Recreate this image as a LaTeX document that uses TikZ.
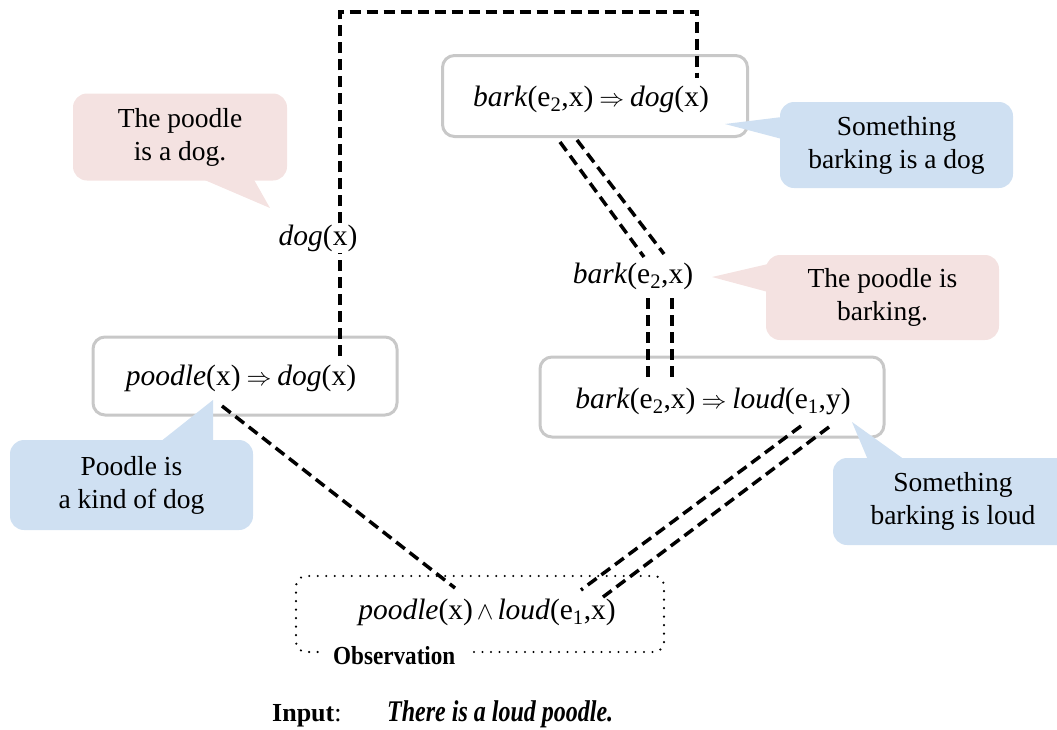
\documentclass[tikz,border=0pt]{standalone}
\usepackage{fontspec}
\setmainfont{Liberation Serif}
\definecolor{boxgray}{HTML}{C8C8C8}
\definecolor{pinkc}{HTML}{F4E2E1}
\definecolor{bluec}{HTML}{CFE0F2}
\tikzset{
  rulebox/.style={draw=boxgray, line width=3pt, rounded corners=12pt, fill=white, inner sep=0pt},
  pinkbox/.style={fill=pinkc, rounded corners=14pt, align=center, inner sep=0pt, font=\fontsize{27.5}{33}\selectfont},
  bluebox/.style={fill=bluec, rounded corners=14pt, align=center, inner sep=0pt, font=\fontsize{27.5}{33}\selectfont},
  formula/.style={font=\fontsize{29.5}{34}\selectfont, inner sep=2pt},
  link/.style={line width=3.5pt, dash pattern=on 11pt off 6pt},
  dotline/.style={line width=2.4pt, dash pattern=on 0pt off 8.5pt, line cap=round},
}
\newcommand{\imp}{\hspace{6pt}{\fontsize{25}{30}\selectfont$\Rightarrow$}\hspace{6pt}}
\newcommand{\cnj}{\hspace{4pt}{\fontsize{30}{34}\selectfont$\wedge$}\hspace{4pt}}
\begin{document}
\begin{tikzpicture}[x=1pt,y=-1pt]
\useasboundingbox (0,0) rectangle (1057,729);

% rule boxes
\node[rulebox, minimum width=305pt, minimum height=81pt] (barkdog) at (595,96) {};
\node[formula] at (591,99) {\textit{bark}(e\textsubscript{2},x)\imp\textit{dog}(x)};
\node[rulebox, minimum width=304pt, minimum height=78pt] (poodog) at (245,376) {};
\node[formula] at (241,378) {\textit{poodle}(x)\imp\textit{dog}(x)};
\node[rulebox, minimum width=344pt, minimum height=80pt] (barkloud) at (712,397) {};
\node[formula] at (713,401) {\textit{bark}(e\textsubscript{2},x)\imp\textit{loud}(e\textsubscript{1},y)};

% observation
\draw[dotline, rounded corners=10pt] (474,652) -- (664,652) -- (664,576) -- (296,576) -- (296,652) -- (322,652);
\node[inner sep=0pt] (obs) at (480,614) {};
\node[formula] (obstext) at (487,612) {\textit{poodle}(x)\cnj\textit{loud}(e\textsubscript{1},x)};
\node[inner sep=0pt, anchor=base west, font=\fontsize{26}{28}\selectfont\bfseries] (obslab) at (333,664) {\scalebox{0.89}[1]{Observation}};

% intermediate facts
\node[formula, fill=white, inner sep=1pt] (dogx) at (318,238) {\textit{dog}(x)};
\node[formula] (barkx) at (633,276) {\textit{bark}(e\textsubscript{2},x)};

% callouts
\fill[pinkc] (200,178) -- (270,208) -- (253,178) -- cycle;
\node[pinkbox, minimum width=214pt, minimum height=87pt] (c1) at (180,137) {The poodle\\is a dog.};
\fill[bluec] (782,117) -- (725,124) -- (782,139) -- cycle;
\node[bluebox, minimum width=233pt, minimum height=86pt] (c2) at (896.5,145) {Something\\barking is a dog};
\fill[pinkc] (768,264) -- (712,277) -- (768,292) -- cycle;
\node[pinkbox, minimum width=233pt, minimum height=85pt] (c3) at (882.5,297.5) {The poodle is\\barking.};
\fill[bluec] (160,442) -- (213,400) -- (213,442) -- cycle;
\node[bluebox, minimum width=243pt, minimum height=90pt] (c4) at (131.5,485) {Poodle is\\a kind of dog};
\fill[bluec] (868,460) -- (852,422) -- (905,460) -- cycle;
\node[bluebox, minimum width=240pt, minimum height=87pt] (c5) at (953,501.5) {Something\\barking is loud};

% connector end points
\coordinate (tl) at (340,12);
\coordinate (tr) at (697,12);
\coordinate (bkin) at (697,78);
\coordinate (pdin) at (340,356);
\coordinate (a1) at (560,142); \coordinate (a2) at (644,257);
\coordinate (b1) at (577,140); \coordinate (b2) at (664,254);
\coordinate (v1a) at (648,298); \coordinate (v1b) at (648,381);
\coordinate (v2a) at (672,298); \coordinate (v2b) at (672,381);
\coordinate (l1a) at (801,426); \coordinate (l1b) at (581,590);
\coordinate (l2a) at (829,427); \coordinate (l2b) at (603,597);
\coordinate (p1) at (222,406); \coordinate (p2) at (455,588);

\draw[link] (pdin) -- (tl |- dogx.south);
\draw[link] (tl |- dogx.north) -- (tl) -- (tr) -- (bkin);
\draw[link] (a1) -- (a2);
\draw[link] (b1) -- (b2);
\draw[link] (v1a) -- (v1b);
\draw[link] (v2a) -- (v2b);
\draw[link] (l1a) -- (l1b);
\draw[link] (l2a) -- (l2b);
\draw[link] (p1) -- (p2);

% input line
\node[anchor=base west, inner sep=0pt, font=\fontsize{26}{30}\selectfont] (inlab) at (272,721) {\textbf{Input}:};
\node[anchor=base west, inner sep=0pt, font=\fontsize{30}{32}\selectfont\bfseries\itshape] (insent) at (387,721) {\scalebox{0.8}[1]{There is a loud poodle.}};
\end{tikzpicture}
\end{document}
